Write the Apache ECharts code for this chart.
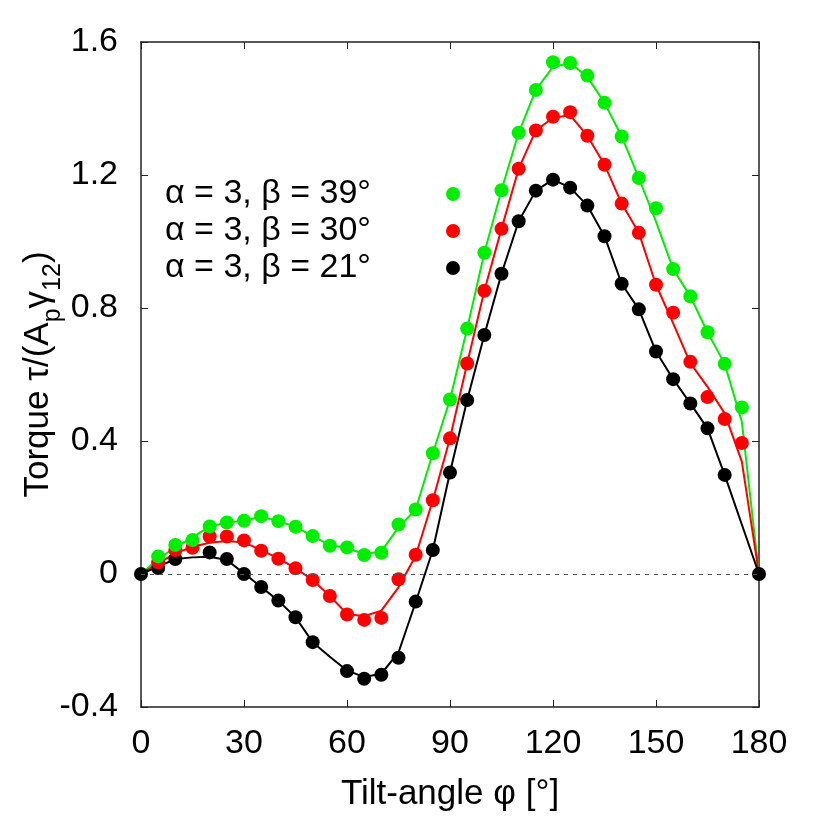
<!DOCTYPE html>
<html>
<head>
<meta charset="utf-8">
<script src="https://cdn.jsdelivr.net/npm/echarts@6/dist/echarts.min.js"></script>
<style>
  html, body { margin: 0; background: #fff; }
  #chart { width: 822px; height: 822px; }
</style>
</head>
<body>
<div id="chart"></div>
<script>
// tilt angles (deg)
const angles = [0, 5, 10, 15, 20, 25, 30, 35, 40, 45, 50, 55, 60, 65, 70, 75, 80, 85, 90,
  95, 100, 105, 110, 115, 120, 125, 130, 135, 140, 145, 150, 155, 160, 165, 170, 175, 180];

// simulation points (null = no point)
const ptsB39 = [null, 0.053, 0.087, 0.102, 0.143, 0.155, 0.160, 0.174, 0.159, 0.142, 0.114, 0.085, 0.080,
  0.057, 0.064, 0.149, 0.194, 0.363, 0.525, 0.738, 0.966, 1.154, 1.327, 1.456, 1.539, 1.537, 1.499,
  1.417, 1.316, 1.191, 1.100, 0.917, 0.835, 0.727, 0.632, 0.501, null];
const ptsB30 = [null, 0.035, 0.072, 0.079, 0.113, 0.113, 0.101, 0.070, 0.046, 0.017, -0.018, -0.066, -0.122,
  -0.138, -0.132, -0.016, 0.058, 0.222, 0.408, 0.633, 0.852, 1.038, 1.219, 1.334, 1.375, 1.389, 1.318,
  1.231, 1.114, 1.026, 0.870, 0.786, 0.638, 0.532, 0.466, 0.394, null];
const ptsB21 = [0, 0.018, 0.045, null, 0.065, 0.045, 0.000, -0.039, -0.080, -0.130, -0.205, null, -0.292,
  -0.315, -0.303, -0.252, -0.083, 0.072, 0.305, 0.523, 0.719, 0.903, 1.061, 1.153, 1.186, 1.162, 1.108,
  1.016, 0.873, 0.796, 0.669, 0.586, 0.513, 0.438, 0.298, null, 0];

// model curves
const lineB39 = [0, 0.045, 0.080, 0.110, 0.143, 0.155, 0.160, 0.172, 0.159, 0.142, 0.114, 0.087, 0.078,
  0.060, 0.068, 0.140, 0.194, 0.363, 0.525, 0.738, 0.966, 1.154, 1.327, 1.456, 1.525, 1.537, 1.495,
  1.417, 1.316, 1.191, 1.060, 0.917, 0.835, 0.727, 0.632, 0.458, 0];
const lineB30 = [0, 0.032, 0.062, 0.082, 0.094, 0.099, 0.095, 0.072, 0.047, 0.017, -0.018, -0.066, -0.120,
  -0.127, -0.110, -0.040, 0.055, 0.222, 0.408, 0.633, 0.852, 1.038, 1.219, 1.334, 1.372, 1.380, 1.318,
  1.231, 1.114, 1.026, 0.870, 0.754, 0.634, 0.563, 0.483, 0.338, 0];
const lineB21 = [0, 0.022, 0.045, 0.050, 0.052, 0.042, 0.002, -0.039, -0.080, -0.130, -0.205, -0.249, -0.290,
  -0.310, -0.300, -0.236, -0.085, 0.072, 0.305, 0.523, 0.719, 0.903, 1.061, 1.153, 1.186, 1.162, 1.108,
  1.016, 0.873, 0.796, 0.669, 0.586, 0.513, 0.438, 0.298, 0.149, 0];

const labels = ["α = 3, β = 39°", "α = 3, β = 30°", "α = 3, β = 21°"];
const colors = ["#00ee00", "#ff0000", "#000000"];

const font = "Liberation Sans";

function pairs(vals) {
  return angles.map((a, i) => [a, vals[i]]).filter((p) => p[1] !== null);
}

const chart = echarts.init(document.getElementById("chart"));

const frame = { show: true, onZero: false, lineStyle: { color: "#222", width: 1.5 } };
const ticks = { show: true, inside: true, length: 7, lineStyle: { color: "#222", width: 1 } };

const lineSets = [lineB39, lineB30, lineB21];
const ptSets = [ptsB39, ptsB30, ptsB21];

const series = [];
lineSets.forEach((vals, i) => {
  series.push({
    type: "line",
    data: pairs(vals),
    symbol: "none",
    lineStyle: { color: colors[i], width: 2 },
    z: 2,
    silent: true,
    markLine: i === 0 ? {
      silent: true,
      symbol: "none",
      label: { show: false },
      lineStyle: { color: "#555", width: 1.2, type: [4, 5] },
      data: [{ yAxis: 0 }],
    } : undefined,
  });
});
ptSets.forEach((vals, i) => {
  series.push({
    name: labels[i],
    type: "scatter",
    data: pairs(vals),
    symbol: "circle",
    symbolSize: 14,
    itemStyle: { color: colors[i], opacity: 1 },
    z: 5 - i,
  });
});

chart.setOption({
  animation: false,
  backgroundColor: "#fff",
  grid: { left: 141, right: 63, top: 42, bottom: 115 },
  legend: {
    orient: "vertical",
    left: 160,
    top: 172,
    align: "right",
    icon: "circle",
    itemWidth: 14,
    itemHeight: 14,
    itemGap: 3,
    data: labels,
    formatter: (name) => "{t|" + name + "}",
    textStyle: {
      fontFamily: font,
      fontSize: 34,
      color: "#000",
      rich: { t: { fontFamily: font, fontSize: 34, color: "#000", width: 276, align: "left", lineHeight: 36.5 } },
    },
  },
  xAxis: [
    {
      type: "value",
      min: 0,
      max: 180,
      interval: 30,
      name: "Tilt-angle φ [°]",
      nameLocation: "middle",
      nameGap: 70,
      nameMoveOverlap: false,
      nameTextStyle: { fontFamily: font, fontSize: 35, color: "#000" },
      axisLine: frame,
      axisTick: ticks,
      axisLabel: { fontFamily: font, fontSize: 34, color: "#000", margin: 20 },
      splitLine: { show: false },
    },
    {
      type: "value",
      position: "top",
      min: 0,
      max: 180,
      interval: 30,
      axisLine: frame,
      axisTick: ticks,
      axisLabel: { show: false },
      splitLine: { show: false },
    },
  ],
  yAxis: [
    {
      type: "value",
      min: -0.4,
      max: 1.6,
      interval: 0.4,
      name: "{m|Torque τ/(A}{s|p}{m|γ}{s|12}{m|)}",
      nameLocation: "middle",
      nameGap: 80,
      nameMoveOverlap: false,
      nameTextStyle: {
        fontFamily: font,
        color: "#000",
        rich: {
          m: { fontFamily: font, fontSize: 35, color: "#000", verticalAlign: "top", lineHeight: 40 },
          s: { fontFamily: font, fontSize: 25, color: "#000", verticalAlign: "top", lineHeight: 25, padding: [20, 0, 0, 0] },
        },
      },
      axisLine: frame,
      axisTick: ticks,
      axisLabel: {
        fontFamily: font,
        fontSize: 34,
        color: "#000",
        margin: 23,
        formatter: (v) => (Math.abs(v) < 1e-9 ? "0" : v.toFixed(1)),
      },
      splitLine: { show: false },
    },
    {
      type: "value",
      position: "right",
      min: -0.4,
      max: 1.6,
      interval: 0.4,
      axisLine: frame,
      axisTick: ticks,
      axisLabel: { show: false },
      splitLine: { show: false },
    },
  ],
  series: series,
});
</script>
</body>
</html>
